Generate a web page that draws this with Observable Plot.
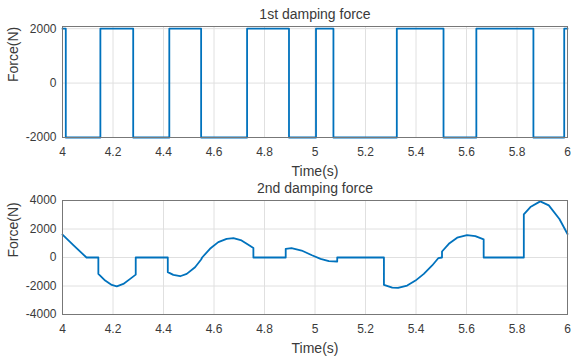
<!DOCTYPE html>
<html><head><meta charset="utf-8">
<script src="https://cdn.jsdelivr.net/npm/d3@7"></script>
<script src="https://cdn.jsdelivr.net/npm/@observablehq/plot@0.6"></script>
<style>
body{margin:0;background:#fff;}
#chart{width:587px;height:357px;overflow:hidden;}
#chart svg{display:block;}
</style></head><body><div id="chart"></div>
<script>
// 1st damping force: switching instants and the level held after each
const switchTimes = [4.000, 4.013, 4.150, 4.280, 4.423, 4.549, 4.731, 4.897, 5.004, 5.073, 5.324, 5.509, 5.639, 5.865, 5.987, 6.000];
const switchLevels = [2000, -2000, 2000, -2000, 2000, -2000, 2000, -2000, 2000, -2000, 2000, -2000, 2000, -2000, 2000, 2000];

// 2nd damping force
const time2 = [4.000, 4.044, 4.095, 4.142, 4.142, 4.169, 4.195, 4.215, 4.241, 4.268, 4.290, 4.290,
  4.417, 4.417, 4.439, 4.466, 4.492, 4.525, 4.549, 4.553, 4.584, 4.617, 4.650, 4.677, 4.709, 4.736, 4.756, 4.756,
  4.884, 4.884, 4.907, 4.947, 4.988, 5.022, 5.055, 5.088, 5.088,
  5.273, 5.273, 5.306, 5.329, 5.365, 5.398, 5.431, 5.464, 5.488, 5.503, 5.503, 5.530, 5.563, 5.602, 5.635, 5.668, 5.668,
  5.827, 5.827, 5.853, 5.892, 5.926, 5.968, 6.000];
const force2 = [1600, 845, 0, 0, -1150, -1620, -1925, -2020, -1855, -1500, -1200, 0,
  0, -1030, -1220, -1315, -1150, -680, -140, 0, 610, 1080, 1310, 1360, 1200, 890, 660, 0,
  0, 610, 660, 490, 160, -95, -260, -280, 0,
  0, -1925, -2110, -2135, -1970, -1620, -1150, -560, -50, 0, 420, 960, 1390, 1570, 1500, 1270, 0,
  0, 3030, 3540, 3940, 3660, 2700, 1650];

const xTicks = [4, 4.2, 4.4, 4.6, 4.8, 5, 5.2, 5.4, 5.6, 5.8, 6];
const yTicks1 = [-2000, 0, 2000];
const yTicks2 = [-4000, -2000, 0, 2000, 4000];
const titles = ["1st damping force", "2nd damping force"];
const xLabel = "Time(s)";
const yLabel = "Force(N)";

const data1 = switchTimes.map((t, i) => ({t, f: switchLevels[i]}));
const data2 = time2.map((t, i) => ({t, f: force2[i]}));

const TXT = "#3a3a3a";
function panel({data, curve, yDomain, yTicks, title, height, marginTop, marginBottom}) {
  return Plot.plot({
    width: 587, height, marginTop, marginBottom, marginLeft: 62, marginRight: 20,
    style: {fontFamily: "'Liberation Sans', Arial, sans-serif", fontSize: "12px", color: TXT, background: "#fff", overflow: "visible"},
    x: {domain: [4, 6]},
    y: {domain: yDomain},
    marks: [
      Plot.gridX(xTicks, {stroke: "#e0e0e0", strokeOpacity: 1}),
      Plot.gridY(yTicks, {stroke: "#e0e0e0", strokeOpacity: 1}),
      Plot.axisX(xTicks, {tickSize: 0, tickPadding: 10, tickFormat: d => String(d), label: null}),
      Plot.axisY(yTicks, {tickSize: 0, tickPadding: 6, tickFormat: d => String(d), label: null}),
      Plot.line(data, {x: "t", y: "f", curve, stroke: "#0072BD", strokeWidth: 1.8}),
      Plot.frame({stroke: "#777"}),
      Plot.text([title], {text: d => d, frameAnchor: "top", lineAnchor: "middle", dy: -12, fontSize: 14, fill: TXT}),
      Plot.text([xLabel], {text: d => d, frameAnchor: "bottom", lineAnchor: "middle", dy: 34, fontSize: 14, fill: TXT}),
      Plot.text([yLabel], {text: d => d, frameAnchor: "left", lineAnchor: "middle", dx: -49, rotate: -90, fontSize: 14, fill: TXT})
    ]
  });
}

const chart = document.getElementById("chart");
chart.append(panel({data: data1, curve: "step-after", yDomain: [-2000, 2080], yTicks: yTicks1, title: titles[0], height: 178, marginTop: 26, marginBottom: 41}));
chart.append(panel({data: data2, curve: "linear", yDomain: [-4000, 4000], yTicks: yTicks2, title: titles[1], height: 179, marginTop: 22, marginBottom: 43}));
</script>
</body></html>
